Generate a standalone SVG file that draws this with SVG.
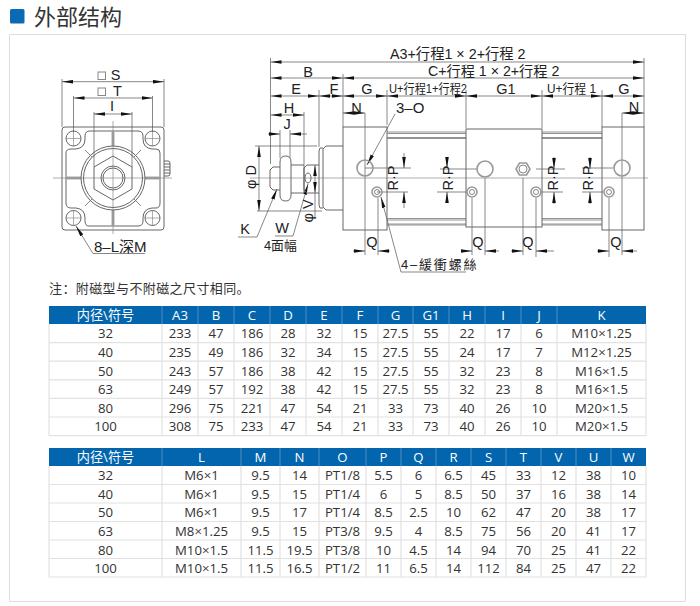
<svg xmlns="http://www.w3.org/2000/svg" width="700" height="606" viewBox="0 0 700 606">
<style>
text{font-family:"Liberation Sans","Noto Sans CJK SC",sans-serif;fill:#222}
.cjk{font-family:"Liberation Sans","Noto Sans CJK TC",sans-serif}
.d{font-size:14.500px;text-anchor:middle}
.l{fill:none;stroke:#555;stroke-width:.7}
.t{fill:none;stroke:#777;stroke-width:.8}
.b{fill:none;stroke:#666;stroke-width:1}
.g{fill:none;stroke:#999;stroke-width:1.6}
.a{marker-end:url(#ah)}
.aa{marker-start:url(#ah);marker-end:url(#ah)}
.cl{fill:none;stroke:#777;stroke-width:.6}
.c{font-family:"Open Sans","Noto Sans CJK SC",sans-serif;font-size:13.200px;text-anchor:middle;fill:#333}
.h{font-family:"Open Sans","Noto Sans CJK SC",sans-serif;font-size:13.200px;text-anchor:middle;fill:#fff}
.hd{fill:#0265ad}
.hs{stroke:#4d90c4;stroke-width:1}
.gl{stroke:#e2e2e2;stroke-width:1.2}
</style>
<defs>
<marker id="ah" viewBox="0 0 11 4" refX="11" refY="2" markerWidth="11" markerHeight="4" markerUnits="userSpaceOnUse" orient="auto-start-reverse"><path d="M0 .2L11 2L0 3.8z" fill="#111"/></marker>
</defs>
<g id="title">
<rect x="10" y="9" width="14.500" height="14.500" rx="1.500" fill="#0a6ab4"/>
<text x="34" y="25" font-size="22" style="font-family:'Noto Sans CJK SC',sans-serif;fill:#333">外部结构</text>
<path d="M9.500 601.500V34.500H685.500V601.500z" fill="none" stroke="#ddd"/>
</g>
<g id="front-view">
<rect class="b" x="62" y="127" width="102" height="103" rx="3"/>
<path class="b" d="M90 131H138Q143 131 143 136V139Q143 148 152 149H156Q160 149 160 153V203Q160 208 156 208H152Q143 209 143 218V221Q143 226 138 226H89Q85 226 85 221V218Q85 209 76 208H71Q66 208 66 203V153Q66 149 71 149H76Q85 148 85 139V136Q85 131 90 131z"/>
<path style="fill:none;stroke:#aaa;stroke-width:3" d="M113 131V146M113 210V226M66 178H81M145 178H160"/>
<path class="l" d="M85 150L92 157M141 150L134 157M85 206L92 199M141 206L134 199"/>
<g id="corners">
<circle class="b" cx="73.500" cy="138.500" r="7.500"/><circle class="b" cx="152.500" cy="138.500" r="7.500"/><circle class="b" cx="73.500" cy="218" r="7.500"/><circle class="b" cx="152.500" cy="218" r="7.500"/>
<path class="cl" d="M66 138.500H81M73.500 131V146M145 138.500H160M152.500 131V146M66 218H81M73.500 210V226M145 218H160M152.500 210V226"/>
</g>
<circle class="b" cx="113" cy="178" r="32"/><circle class="b" cx="113" cy="178" r="29.500"/>
<path class="b" d="M113 156L132 167V189L113 200L94 189V167z"/>
<circle class="b" cx="113" cy="178" r="12"/><circle class="b" cx="113" cy="178" r="10"/>
<path class="b" d="M164 161H168Q170 161 170 163V174Q170 176 168 176H164M164 164H170M164 167H170M164 170H170M164 173H170"/>
<path class="cl" d="M53 178H172M113 121V234"/>
</g>
<g id="connectors">
<path class="l" d="M62 127V79M164 127V79M73.500 132V96M152.500 132V96M94 167V112M132 167V112"/>
<path class="l aa" d="M62 81.700H164"/><path class="l aa" d="M73.500 98H152.500"/><path class="l aa" d="M94 114H132"/>
<path class="l a" d="M93 253.500L76 226"/><path class="l" d="M93 253.500H145"/>
<path class="l" d="M270.500 58V164M343 74V127M644 58V127M319 90V147M387 90V125M466 90V128M542 90V128M602 90V127M304 112V165M280 130V158M290 130V158"/>
<path class="l aa" d="M270.500 62H644"/>
<path class="l aa" d="M270.500 78H343"/><path class="l aa" d="M343 78H644"/>
<path class="l aa" d="M270.500 96H319"/><path class="l aa" d="M319 96H343"/><path class="l aa" d="M343 96H387"/><path class="l aa" d="M387 96H466"/><path class="l aa" d="M466 96H542"/><path class="l aa" d="M542 96H602"/><path class="l aa" d="M602 96H644"/>
<path class="l aa" d="M343 113H365"/><path class="l aa" d="M622 113H644"/>
<path class="l aa" d="M270.500 115H304"/>
<path class="l a" d="M268 134H280"/><path class="l a" d="M307 134H290"/>
<path class="l aa" d="M259 146V211"/><path class="l" d="M255 146H317M257 211H322"/>
<path class="l aa" d="M315 165V193"/><path class="l" d="M315 193V219"/>
<path class="l" d="M365 113V255M622 113V255M485 178V255M523 178V255M378 198V255M472 198V255M536 198V257M609 198V257"/>
<path class="l a" d="M353 251H365"/><path class="l a" d="M390 251H378"/>
<path class="l a" d="M462 251H472"/><path class="l a" d="M499 251H485"/>
<path class="l a" d="M511 251H523"/><path class="l a" d="M554 251H536"/>
<path class="l a" d="M597 251H609"/><path class="l a" d="M637 251H622"/>
<path class="l" d="M365 168H411M377 192H408M440 169H477M437 192H467M536 169H565M540 192H563M582 168H613M582 192H603"/>
<path class="l a" d="M404 153V168"/><path class="l a" d="M404 208V192"/>
<path class="l a" d="M447 157V168"/><path class="l a" d="M447 203V192"/>
<path class="l a" d="M554 157V169"/><path class="l a" d="M554 204V192"/>
<path class="l a" d="M590 157V169"/><path class="l a" d="M590 204V192"/>
<path class="l a" d="M395 114L367 165"/>
<path class="l a" d="M401 272L381 197"/><path class="l" d="M401 272H466"/>
<path class="l a" d="M257 237L277 189"/><path class="l" d="M238 237H257"/>
<path class="l a" d="M293 236L308 184"/><path class="l" d="M275 236H293"/>
</g>
<g id="side-view">
<rect class="b" x="343" y="127" width="44" height="103"/>
<path class="b" d="M343 146H326L323 149V207L326 210H343M323 148H320L319 151V205L320 208H323"/>
<path class="b" d="M319 165H307L304 168V190L307 193H319M304 165V193"/>
<path class="b" d="M291 165H304M291 193H304M280 167H273L270 170V187L273 190H280"/>
<path class="b" d="M280 162Q280 156 285.500 156Q291 156 291 162V195Q291 201 285.500 201Q280 201 280 195z"/>
<path class="t" d="M387 132H466M387 133.500H466M387 137.500H466M387 138.500H466M387 218.500H466M387 220H466M387 224H466M387 225H466M542 132H602M542 133.500H602M542 137.500H602M542 138.500H602M542 218.500H602M542 220H602M542 224H602M542 225H602"/>
<rect class="b" x="466" y="129" width="76" height="98"/>
<rect class="b" x="602" y="127" width="42" height="103"/>
<path class="cl" d="M250 178H648"/>
<ellipse class="b" cx="308" cy="178" rx="3" ry="5"/>
<g id="ports">
<circle class="g" cx="365" cy="168" r="8"/><circle class="g" cx="485" cy="169" r="8"/><circle class="g" cx="622" cy="168" r="8"/>
<path class="g" d="M530 169L526.500 175H519.500L516 169L519.500 163H526.500z"/><circle class="l" cx="523" cy="169" r="4"/>
<circle class="g" cx="377" cy="192" r="5"/><circle class="g" cx="472" cy="192" r="5"/><circle class="g" cx="536" cy="192" r="5"/><circle class="g" cx="609" cy="192" r="5"/>
<circle class="l" cx="377" cy="192" r="2.500"/><circle class="l" cx="472" cy="192" r="2.500"/><circle class="l" cx="536" cy="192" r="2.500"/><circle class="l" cx="609" cy="192" r="2.500"/>
</g>
</g>
<g id="labels">
<rect x="98" y="72" width="7.500" height="7.500" fill="none" stroke="#888"/><text class="d" x="115.500" y="80">S</text>
<rect x="98" y="88" width="7.500" height="7.500" fill="none" stroke="#888"/><text class="d" x="117.500" y="96">T</text>
<text class="d" x="112" y="111">I</text>
<text x="94" y="252" font-size="15">8–L深M</text>
<text x="390" y="59" font-size="14.300">A3+行程1 × 2+行程 2</text>
<text x="428" y="76" font-size="14.200">C+行程 1 × 2+行程 2</text>
<text class="d" x="308" y="76.500">B</text>
<text class="d" x="296" y="94">E</text><text class="d" x="334" y="94">F</text><text class="d" x="367" y="94">G</text>
<text x="389" y="93" font-size="13" textLength="78" lengthAdjust="spacingAndGlyphs">U+行程1+行程2</text>
<text class="d" x="506" y="93.500">G1</text>
<text x="547" y="93" font-size="13" textLength="49" lengthAdjust="spacingAndGlyphs">U+行程 1</text>
<text class="d" x="624" y="94">G</text>
<text class="d" x="356.500" y="113">N</text><text class="d" x="634" y="112">N</text>
<text class="d" x="289" y="113">H</text><text class="d" x="287" y="129">J</text>
<text x="396" y="113" font-size="15">3–O</text>
<text class="d" transform="translate(256 177) rotate(-90)">φ D</text>
<text class="d" transform="translate(313 211) rotate(-90)">φ V</text>
<text class="d" transform="translate(398 178) rotate(-90)">R·P</text>
<text class="d" transform="translate(453 178) rotate(-90)">R·P</text>
<text class="d" transform="translate(558 178) rotate(-90)">R·P</text>
<text class="d" transform="translate(593 178) rotate(-90)">R·P</text>
<text class="d" x="245" y="234">K</text><text class="d" x="282" y="233">W</text>
<text x="264" y="250" font-size="12.800" class="cjk">4面幅</text>
<text class="d" x="372" y="247">Q</text><text class="d" x="478" y="247">Q</text><text class="d" x="528" y="247">Q</text><text class="d" x="616" y="247">Q</text>
<text x="401" y="269" font-size="13" letter-spacing="1.800" class="cjk">4–緩衝螺絲</text>
</g>
<text x="49" y="293" font-size="13" letter-spacing=".4" style="font-family:'Noto Sans CJK SC',sans-serif;fill:#333">注：附磁型与不附磁之尺寸相同。</text>
<g id="table-1">
<rect class="hd" x="49" y="306" width="597" height="18"/>
<path class="hs" d="M162 306V324M198 306V324M234 306V324M270 306V324M306 306V324M342 306V324M378 306V324M413 306V324M449 306V324M485 306V324M521 306V324M557 306V324"/>
<path class="gl" d="M49 342.600H646M49 361.200H646M49 379.800H646M49 398.400H646M49 417H646M49 435.600H646M49 324V435.600M162 324V435.600M198 324V435.600M234 324V435.600M270 324V435.600M306 324V435.600M342 324V435.600M378 324V435.600M413 324V435.600M449 324V435.600M485 324V435.600M521 324V435.600M557 324V435.600M646 324V435.600"/>
<text class="h" y="320"><tspan x="105.500">内径\符号</tspan><tspan x="180">A3</tspan><tspan x="216">B</tspan><tspan x="252">C</tspan><tspan x="288">D</tspan><tspan x="324">E</tspan><tspan x="360">F</tspan><tspan x="395.500">G</tspan><tspan x="431">G1</tspan><tspan x="467">H</tspan><tspan x="503">I</tspan><tspan x="539">J</tspan><tspan x="601.500">K</tspan></text>
<text class="c" y="338"><tspan x="105.500">32</tspan><tspan x="180">233</tspan><tspan x="216">47</tspan><tspan x="252">186</tspan><tspan x="288">28</tspan><tspan x="324">32</tspan><tspan x="360">15</tspan><tspan x="395.500">27.5</tspan><tspan x="431">55</tspan><tspan x="467">22</tspan><tspan x="503">17</tspan><tspan x="539">6</tspan><tspan x="601.500">M10×1.25</tspan></text>
<text class="c" y="357"><tspan x="105.500">40</tspan><tspan x="180">235</tspan><tspan x="216">49</tspan><tspan x="252">186</tspan><tspan x="288">32</tspan><tspan x="324">34</tspan><tspan x="360">15</tspan><tspan x="395.500">27.5</tspan><tspan x="431">55</tspan><tspan x="467">24</tspan><tspan x="503">17</tspan><tspan x="539">7</tspan><tspan x="601.500">M12×1.25</tspan></text>
<text class="c" y="375.500"><tspan x="105.500">50</tspan><tspan x="180">243</tspan><tspan x="216">57</tspan><tspan x="252">186</tspan><tspan x="288">38</tspan><tspan x="324">42</tspan><tspan x="360">15</tspan><tspan x="395.500">27.5</tspan><tspan x="431">55</tspan><tspan x="467">32</tspan><tspan x="503">23</tspan><tspan x="539">8</tspan><tspan x="601.500">M16×1.5</tspan></text>
<text class="c" y="394"><tspan x="105.500">63</tspan><tspan x="180">249</tspan><tspan x="216">57</tspan><tspan x="252">192</tspan><tspan x="288">38</tspan><tspan x="324">42</tspan><tspan x="360">15</tspan><tspan x="395.500">27.5</tspan><tspan x="431">55</tspan><tspan x="467">32</tspan><tspan x="503">23</tspan><tspan x="539">8</tspan><tspan x="601.500">M16×1.5</tspan></text>
<text class="c" y="413"><tspan x="105.500">80</tspan><tspan x="180">296</tspan><tspan x="216">75</tspan><tspan x="252">221</tspan><tspan x="288">47</tspan><tspan x="324">54</tspan><tspan x="360">21</tspan><tspan x="395.500">33</tspan><tspan x="431">73</tspan><tspan x="467">40</tspan><tspan x="503">26</tspan><tspan x="539">10</tspan><tspan x="601.500">M20×1.5</tspan></text>
<text class="c" y="431"><tspan x="105.500">100</tspan><tspan x="180">308</tspan><tspan x="216">75</tspan><tspan x="252">233</tspan><tspan x="288">47</tspan><tspan x="324">54</tspan><tspan x="360">21</tspan><tspan x="395.500">33</tspan><tspan x="431">73</tspan><tspan x="467">40</tspan><tspan x="503">26</tspan><tspan x="539">10</tspan><tspan x="601.500">M20×1.5</tspan></text>
</g>
<g id="table-2">
<rect class="hd" x="49" y="448" width="597" height="18"/>
<path class="hs" d="M162 448V466M241 448V466M280 448V466M319 448V466M366 448V466M401 448V466M436 448V466M471 448V466M506 448V466M541 448V466M576 448V466M611 448V466"/>
<path class="gl" d="M49 484.500H646M49 503H646M49 521.500H646M49 540H646M49 558.500H646M49 577H646M49 466V577M162 466V577M241 466V577M280 466V577M319 466V577M366 466V577M401 466V577M436 466V577M471 466V577M506 466V577M541 466V577M576 466V577M611 466V577M646 466V577"/>
<text class="h" y="462"><tspan x="105.500">内径\符号</tspan><tspan x="201.500">L</tspan><tspan x="260.500">M</tspan><tspan x="299.500">N</tspan><tspan x="342.500">O</tspan><tspan x="383.500">P</tspan><tspan x="418.500">Q</tspan><tspan x="453.500">R</tspan><tspan x="488.500">S</tspan><tspan x="523.500">T</tspan><tspan x="558.500">V</tspan><tspan x="593.500">U</tspan><tspan x="628.500">W</tspan></text>
<text class="c" y="480"><tspan x="105.500">32</tspan><tspan x="201.500">M6×1</tspan><tspan x="260.500">9.5</tspan><tspan x="299.500">14</tspan><tspan x="342.500">PT1/8</tspan><tspan x="383.500">5.5</tspan><tspan x="418.500">6</tspan><tspan x="453.500">6.5</tspan><tspan x="488.500">45</tspan><tspan x="523.500">33</tspan><tspan x="558.500">12</tspan><tspan x="593.500">38</tspan><tspan x="628.500">10</tspan></text>
<text class="c" y="499"><tspan x="105.500">40</tspan><tspan x="201.500">M6×1</tspan><tspan x="260.500">9.5</tspan><tspan x="299.500">15</tspan><tspan x="342.500">PT1/4</tspan><tspan x="383.500">6</tspan><tspan x="418.500">5</tspan><tspan x="453.500">8.5</tspan><tspan x="488.500">50</tspan><tspan x="523.500">37</tspan><tspan x="558.500">16</tspan><tspan x="593.500">38</tspan><tspan x="628.500">14</tspan></text>
<text class="c" y="517"><tspan x="105.500">50</tspan><tspan x="201.500">M6×1</tspan><tspan x="260.500">9.5</tspan><tspan x="299.500">17</tspan><tspan x="342.500">PT1/4</tspan><tspan x="383.500">8.5</tspan><tspan x="418.500">2.5</tspan><tspan x="453.500">10</tspan><tspan x="488.500">62</tspan><tspan x="523.500">47</tspan><tspan x="558.500">20</tspan><tspan x="593.500">38</tspan><tspan x="628.500">17</tspan></text>
<text class="c" y="536"><tspan x="105.500">63</tspan><tspan x="201.500">M8×1.25</tspan><tspan x="260.500">9.5</tspan><tspan x="299.500">15</tspan><tspan x="342.500">PT3/8</tspan><tspan x="383.500">9.5</tspan><tspan x="418.500">4</tspan><tspan x="453.500">8.5</tspan><tspan x="488.500">75</tspan><tspan x="523.500">56</tspan><tspan x="558.500">20</tspan><tspan x="593.500">41</tspan><tspan x="628.500">17</tspan></text>
<text class="c" y="554.500"><tspan x="105.500">80</tspan><tspan x="201.500">M10×1.5</tspan><tspan x="260.500">11.5</tspan><tspan x="299.500">19.5</tspan><tspan x="342.500">PT3/8</tspan><tspan x="383.500">10</tspan><tspan x="418.500">4.5</tspan><tspan x="453.500">14</tspan><tspan x="488.500">94</tspan><tspan x="523.500">70</tspan><tspan x="558.500">25</tspan><tspan x="593.500">41</tspan><tspan x="628.500">22</tspan></text>
<text class="c" y="573"><tspan x="105.500">100</tspan><tspan x="201.500">M10×1.5</tspan><tspan x="260.500">11.5</tspan><tspan x="299.500">16.5</tspan><tspan x="342.500">PT1/2</tspan><tspan x="383.500">11</tspan><tspan x="418.500">6.5</tspan><tspan x="453.500">14</tspan><tspan x="488.500">112</tspan><tspan x="523.500">84</tspan><tspan x="558.500">25</tspan><tspan x="593.500">47</tspan><tspan x="628.500">22</tspan></text>
</g>
</svg>
